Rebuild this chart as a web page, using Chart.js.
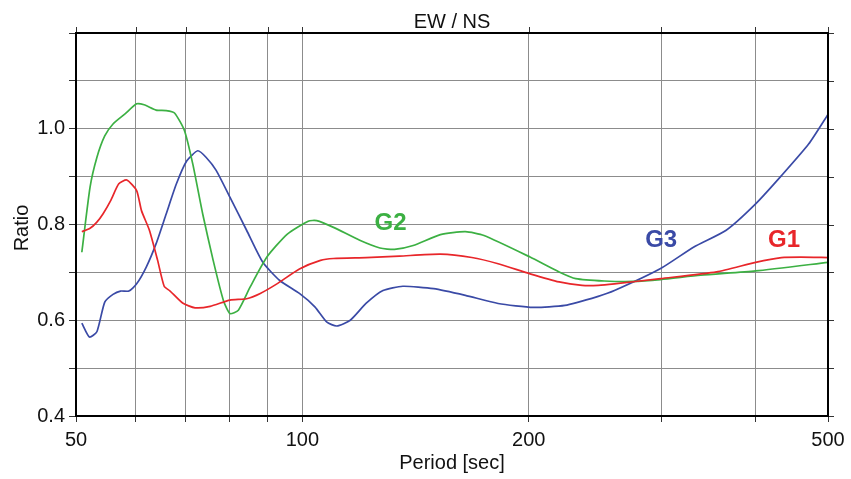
<!DOCTYPE html>
<html>
<head>
    <title>EW / NS</title>
    <style>
        body { margin: 0; background: #ffffff; }
    </style>
    <script src="https://cdn.jsdelivr.net/npm/chart.js"></script>
</head>
<body>
    <canvas id="ratioChart" width="851" height="479"></canvas>
    <script>
        // Period [sec] / ratio pairs for each station
        var g1Period = [50.9, 52.2, 53.3, 54.3, 55.6, 57.0, 58.4, 60.2, 61.1, 62.6, 64.2, 65.5, 66.7, 69.3, 72.0, 75.4, 80.1, 84.3, 87.9, 92.5, 99.1, 105.7, 110.0, 121.5, 134.6, 152.6, 168.0, 182.1, 200.8, 219.5, 235.5, 247.4, 260.0, 299.5, 355.4, 400.6, 433.6, 460.0, 500];
        var g1Ratio = [0.785, 0.792, 0.805, 0.822, 0.850, 0.885, 0.893, 0.871, 0.829, 0.788, 0.725, 0.671, 0.661, 0.636, 0.626, 0.629, 0.642, 0.645, 0.656, 0.676, 0.707, 0.725, 0.729, 0.731, 0.734, 0.738, 0.731, 0.718, 0.697, 0.680, 0.673, 0.673, 0.676, 0.687, 0.701, 0.721, 0.731, 0.732, 0.731];

        var g2Period = [50.9, 52.2, 53.3, 54.6, 56.0, 58.1, 60.2, 61.6, 63.9, 65.9, 67.6, 69.7, 71.5, 73.7, 76.1, 78.5, 80.1, 82.2, 85.2, 89.7, 95.5, 101.8, 104.5, 110.0, 119.2, 126.8, 132.6, 140.4, 152.6, 164.7, 174.4, 200.8, 219.5, 231.0, 252.0, 275.0, 299.5, 338.6, 400.6, 500];
        var g2Ratio = [0.742, 0.878, 0.940, 0.985, 1.010, 1.031, 1.052, 1.050, 1.039, 1.038, 1.033, 0.996, 0.926, 0.822, 0.725, 0.642, 0.614, 0.621, 0.669, 0.732, 0.780, 0.807, 0.808, 0.794, 0.767, 0.751, 0.748, 0.756, 0.779, 0.785, 0.777, 0.732, 0.701, 0.687, 0.682, 0.681, 0.685, 0.694, 0.703, 0.721];

        var g3Period = [50.9, 52.1, 53.3, 54.6, 56.0, 57.3, 58.8, 60.2, 62.0, 63.9, 65.9, 68.0, 70.2, 72.6, 74.5, 76.8, 80.1, 84.3, 88.6, 93.3, 99.1, 103.9, 107.8, 111.1, 115.8, 121.5, 128.0, 136.0, 149.5, 164.7, 182.1, 202.8, 223.4, 247.4, 260.0, 299.5, 331.6, 366.1, 400.6, 433.6, 471.2, 500];
        var g3Ratio = [0.594, 0.565, 0.576, 0.638, 0.654, 0.661, 0.661, 0.676, 0.711, 0.760, 0.822, 0.885, 0.933, 0.954, 0.940, 0.913, 0.857, 0.788, 0.721, 0.683, 0.656, 0.628, 0.596, 0.588, 0.600, 0.635, 0.662, 0.671, 0.666, 0.652, 0.635, 0.627, 0.631, 0.650, 0.662, 0.708, 0.753, 0.788, 0.843, 0.902, 0.968, 1.030];

        // axis ticks
        var periodTicks = [50, 60, 70, 80, 90, 100, 200, 300, 400, 500];
        var periodLabels = [50, 100, 200, 500];
        var ratioMin = 0.4, ratioMax = 1.2, ratioStep = 0.1;

        // curve names placed next to the lines
        var tagText = ['G2', 'G3', 'G1'];
        var tagPeriod = [131, 300, 437];
        var tagRatio = [0.802, 0.767, 0.767];
        var tagColor = ['#3cb043', '#3a4aa6', '#e8262a'];

        var FONT = '"Liberation Sans", Arial, Helvetica, sans-serif';

        function toPoints(xs, ys) {
            return xs.map(function (x, i) { return { x: x, y: ys[i] }; });
        }

        // frame, outer tick marks and all the text
        var decorations = {
            id: 'decorations',
            afterDatasetsDraw: function (chart) {
                var ctx = chart.ctx;
                var xs = chart.scales.x, ys = chart.scales.y;
                ctx.save();
                ctx.font = 'bold 24px ' + FONT;
                ctx.textAlign = 'center';
                ctx.textBaseline = 'middle';
                for (var i = 0; i < tagText.length; i++) {
                    ctx.fillStyle = tagColor[i];
                    ctx.fillText(tagText[i], xs.getPixelForValue(tagPeriod[i]), ys.getPixelForValue(tagRatio[i]));
                }
                ctx.restore();
            },
            afterDraw: function (chart) {
                var ctx = chart.ctx;
                var a = chart.chartArea;
                var xs = chart.scales.x, ys = chart.scales.y;
                ctx.save();

                // ticks on top and right sides
                ctx.strokeStyle = '#333';
                ctx.lineWidth = 1;
                periodTicks.forEach(function (v) {
                    var px = Math.round(xs.getPixelForValue(v)) + 0.5;
                    ctx.beginPath();
                    ctx.moveTo(px, a.top);
                    ctx.lineTo(px, a.top - 6);
                    ctx.stroke();
                });
                for (var v = ratioMin; v <= ratioMax + 1e-9; v += ratioStep) {
                    var py = Math.round(ys.getPixelForValue(v)) + 0.5;
                    ctx.beginPath();
                    ctx.moveTo(a.right, py);
                    ctx.lineTo(a.right + 6, py);
                    ctx.stroke();
                }

                ctx.strokeStyle = '#000';
                ctx.lineWidth = 2;
                ctx.strokeRect(a.left, a.top, a.right - a.left, a.bottom - a.top);

                ctx.fillStyle = '#111';
                ctx.font = '20px ' + FONT;
                ctx.textAlign = 'center';
                ctx.textBaseline = 'alphabetic';
                ctx.fillText('EW / NS', (a.left + a.right) / 2, 28);
                ctx.fillText('Period [sec]', (a.left + a.right) / 2, 469);

                ctx.translate(28, 228);
                ctx.rotate(-Math.PI / 2);
                ctx.fillText('Ratio', 0, 0);
                ctx.restore();
            }
        };

        var ctx = document.getElementById('ratioChart').getContext('2d');
        var myChart = new Chart(ctx, {
            type: 'line',
            data: {
                datasets: [
                    { label: 'G1', data: toPoints(g1Period, g1Ratio), borderColor: '#e8262a' },
                    { label: 'G2', data: toPoints(g2Period, g2Ratio), borderColor: '#3cb043' },
                    { label: 'G3', data: toPoints(g3Period, g3Ratio), borderColor: '#3a4aa6' }
                ]
            },
            options: {
                responsive: false,
                animation: false,
                devicePixelRatio: 1,
                layout: { padding: { top: 33, right: 23, left: 0, bottom: 0 } },
                elements: {
                    line: { borderWidth: 1.7, tension: 0.2, fill: false },
                    point: { radius: 0 }
                },
                plugins: {
                    legend: { display: false },
                    tooltip: { enabled: false },
                    title: { display: false }
                },
                scales: {
                    x: {
                        type: 'logarithmic',
                        min: 50,
                        max: 500,
                        afterBuildTicks: function (scale) {
                            scale.ticks = periodTicks.map(function (v) { return { value: v }; });
                        },
                        afterFit: function (scale) { scale.height = 63; },
                        grid: { color: '#8c8c8c', lineWidth: 1, tickLength: 6, tickColor: '#333' },
                        border: { display: false },
                        ticks: {
                            autoSkip: false,
                            maxRotation: 0,
                            padding: 6,
                            color: '#111',
                            font: { family: FONT, size: 20 },
                            callback: function (value) {
                                return periodLabels.indexOf(value) >= 0 ? String(value) : '';
                            }
                        }
                    },
                    y: {
                        min: ratioMin,
                        max: ratioMax,
                        afterFit: function (scale) { scale.width = 76; },
                        grid: { color: '#8c8c8c', lineWidth: 1, tickLength: 7, tickColor: '#333' },
                        border: { display: false },
                        ticks: {
                            stepSize: ratioStep,
                            padding: 4,
                            color: '#111',
                            font: { family: FONT, size: 20 },
                            callback: function (value) {
                                var tenth = Math.round(value * 10);
                                return tenth % 2 === 0 && tenth < 12 ? (tenth / 10).toFixed(1) : '';
                            }
                        }
                    }
                }
            },
            plugins: [decorations]
        });
    </script>
</body>
</html>
